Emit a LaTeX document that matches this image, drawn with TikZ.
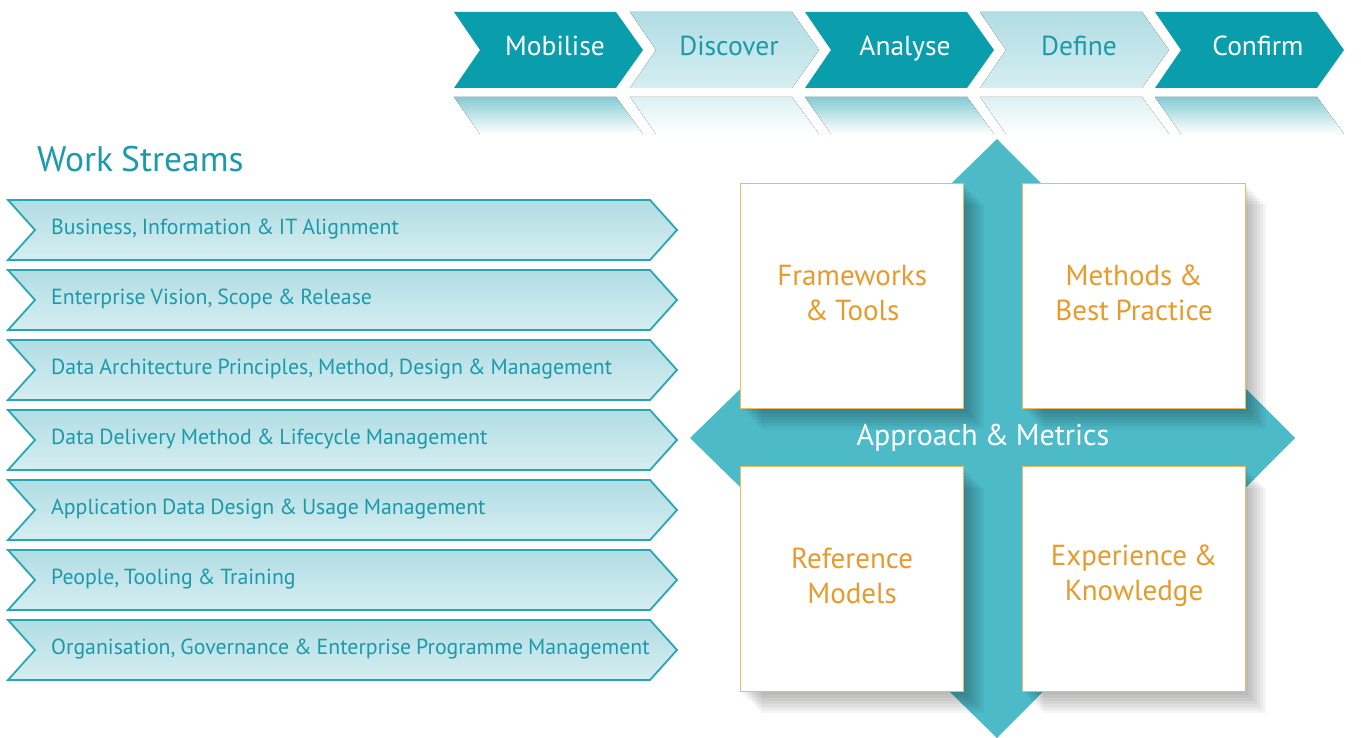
\documentclass[tikz,border=0pt]{standalone}
\usepackage{fontspec}
\setmainfont{PT Sans}[WordSpace=0.85]
\usetikzlibrary{calc}
\definecolor{tealdark}{HTML}{0A9DAC}
\definecolor{teallightT}{HTML}{B0DDE3}
\definecolor{teallightB}{HTML}{D6EEF1}
\definecolor{tealtext}{HTML}{1A9AAB}
\definecolor{tealline}{HTML}{27A6B6}
\definecolor{crosscol}{HTML}{4DBAC8}
\definecolor{orangeline}{HTML}{F0B860}
\definecolor{orangetext}{HTML}{E89A2C}
\definecolor{reflD}{HTML}{86CBD4}
\definecolor{reflL}{HTML}{DDF0F3}
\tikzset{
  chevdark/.style={fill=tealdark},
  chevlight/.style={top color=teallightT, bottom color=teallightB},
  chevtxtdark/.style={text=white, font=\fontsize{27.5}{30}\selectfont, anchor=base, inner sep=0pt},
  chevtxtlight/.style={text=tealtext, font=\fontsize{27.5}{30}\selectfont, anchor=base, inner sep=0pt},
  wsbar/.style={top color=teallightT, bottom color=teallightB, draw=tealline, line width=1.8pt, line join=miter},
  wstext/.style={text=tealtext, font=\fontsize{21.8}{26}\selectfont, anchor=west, inner sep=0pt},
  card/.style={draw=orangeline, line width=1.2pt, fill=white, minimum width=223pt, minimum height=225pt, inner sep=0pt},
  cardtext/.style={text=orangetext, font=\fontsize{29}{35}\selectfont, align=center, inner sep=0pt},
}
\begin{document}
\begin{tikzpicture}[x=1pt,y=-1pt]
\useasboundingbox (0,0) rectangle (1361,738);
% ---------- top phase chevrons ----------
\foreach \x/\sty/\rc in {454/chevdark/reflD, 630/chevlight/reflL, 805/chevdark/reflD, 980/chevlight/reflL, 1155/chevdark/reflD}{
  \fill[\sty] (\x,12) -- (\x+162,12) -- (\x+189,50) -- (\x+162,88) -- (\x,88) -- (\x+26,50) -- cycle;
  \fill[top color=\rc, bottom color=white] (\x,97) -- (\x+162,97) -- (\x+189,134) -- (\x+26,134) -- cycle;
}
\node[chevtxtdark]  (p1) at (555,56) {Mobilise};
\node[chevtxtlight] (p2) at (729,56) {Discover};
\node[chevtxtdark]  (p3) at (905,56) {Analyse};
\node[chevtxtlight] (p4) at (1079,56) {Define};
\node[chevtxtdark]  (p5) at (1258,56) {Confirm};
% ---------- work streams ----------
\node[text=tealtext, font=\fontsize{35.5}{40}\selectfont, anchor=base west, inner sep=0pt] (wstitle) at (37,172) {Work Streams};
\foreach \y/\t [count=\i] in {
  200/{Business, Information \& IT Alignment},
  270/{Enterprise Vision, Scope \& Release},
  340/{Data Architecture Principles, Method, Design \& Management},
  410/{Data Delivery Method \& Lifecycle Management},
  480/{Application Data Design \& Usage Management},
  550/{People, Tooling \& Training},
  620/{Organisation, Governance \& Enterprise Programme Management}}{
  \draw[wsbar] (8,\y) -- (650,\y) -- (677,\y+30) -- (650,\y+60) -- (8,\y+60) -- (35,\y+30) -- cycle;
  \node[wstext] (ws\i) at (51,\y+29) {\t};
}
% ---------- cross / diamond ----------
\fill[crosscol] (997,139) -- (1295,438) -- (997,738) -- (690,438) -- cycle;
% shadows
\foreach \bx/\by in {740/183, 1022/183, 740/467, 1022/467}{
  \foreach \k in {3,6,...,21}{
    \fill[black, opacity=0.045] (\bx+\k,\by+\k) rectangle (\bx+223+\k,\by+225+\k);
  }
}
\node[card, anchor=north west] (c1) at (740,183) {};
\node[card, anchor=north west] (c2) at (1022,183) {};
\node[card, anchor=north west] (c3) at (740,466) {};
\node[card, anchor=north west] (c4) at (1022,466) {};
\node[cardtext] (t1) at ($(c1.center)+(0,-3)$) {Frameworks\\\& Tools};
\node[cardtext] (t2) at ($(c2.center)+(0,-3)$) {Methods \&\\Best Practice};
\node[cardtext] (t3) at ($(c3.center)+(0,-3)$) {Reference\\Models};
\node[cardtext] (t4) at ($(c4.center)+(0,-3)$) {Experience \&\\Knowledge};
\node[text=white, font=\fontsize{30}{36}\selectfont, inner sep=0pt] (am) at (983,438) {Approach \& Metrics};
\end{tikzpicture}
\end{document}
